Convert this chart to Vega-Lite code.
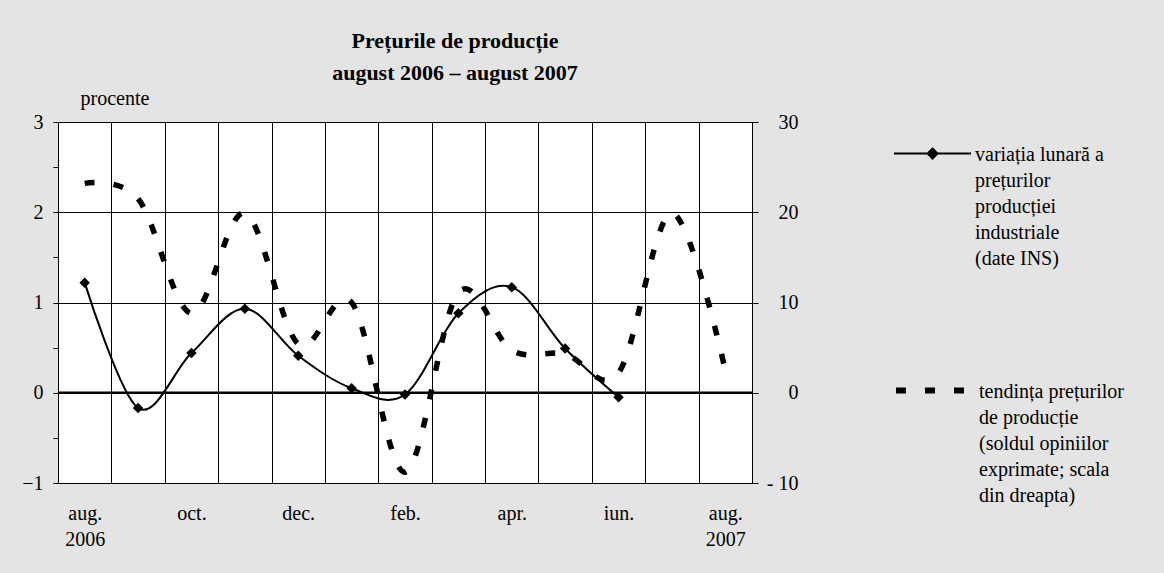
{
  "$schema": "https://vega.github.io/schema/vega-lite/v6.json",
  "width": 694,
  "height": 361,
  "autosize": {"type": "none"},
  "padding": {"left": 58, "top": 122, "right": 412, "bottom": 90},
  "background": "#e4e4e4",
  "config": {
    "font": "Liberation Serif",
    "view": {"fill": "white", "stroke": "#000", "strokeWidth": 1},
    "style": {"guide-label": {"lineHeight": 26}},
    "axis": {
      "labelFont": "Liberation Serif",
      "labelFontSize": 20,
      "labelColor": "#000",
      "domainColor": "#000",
      "tickColor": "#000",
      "gridColor": "#000",
      "gridOpacity": 1,
      "titleFont": "Liberation Serif"
    },
    "legend": {
      "labelFont": "Liberation Serif",
      "labelFontSize": 20,
      "labelColor": "#000",
      "labelLimit": 300,
      "labelBaseline": "alphabetic",
      "labelOffset": 3,
      "padding": 0,
      "symbolSize": 5929,
      "symbolStrokeColor": "#000",
      "symbolFillColor": "#000"
    }
  },
  "title": {
    "text": ["Prețurile de producție", "august 2006 – august 2007"],
    "font": "Liberation Serif",
    "fontSize": 22,
    "fontWeight": "bold",
    "color": "#000",
    "lineHeight": 32,
    "anchor": "middle",
    "frame": "group",
    "dx": 50,
    "offset": 3
  },
  "data": {
    "values": [
      {"serie": "lunara", "luna": "aug. 2006", "v": 1.22},
      {"serie": "lunara", "luna": "sep.", "v": -0.17},
      {"serie": "lunara", "luna": "oct.", "v": 0.44},
      {"serie": "lunara", "luna": "nov.", "v": 0.93},
      {"serie": "lunara", "luna": "dec.", "v": 0.41},
      {"serie": "lunara", "luna": "ian.", "v": 0.05},
      {"serie": "lunara", "luna": "feb.", "v": -0.02},
      {"serie": "lunara", "luna": "mar.", "v": 0.88},
      {"serie": "lunara", "luna": "apr.", "v": 1.17},
      {"serie": "lunara", "luna": "mai", "v": 0.49},
      {"serie": "lunara", "luna": "iun.", "v": -0.05},
      {"serie": "tendinta", "luna": "aug. 2006", "v": 23.2},
      {"serie": "tendinta", "luna": "sep.", "v": 21.5},
      {"serie": "tendinta", "luna": "oct.", "v": 8.8},
      {"serie": "tendinta", "luna": "nov.", "v": 19.9},
      {"serie": "tendinta", "luna": "dec.", "v": 5.4},
      {"serie": "tendinta", "luna": "ian.", "v": 10.0},
      {"serie": "tendinta", "luna": "feb.", "v": -8.8},
      {"serie": "tendinta", "luna": "mar.", "v": 11.1},
      {"serie": "tendinta", "luna": "apr.", "v": 4.7},
      {"serie": "tendinta", "luna": "mai", "v": 4.3},
      {"serie": "tendinta", "luna": "iun.", "v": 2.2},
      {"serie": "tendinta", "luna": "iul.", "v": 19.9},
      {"serie": "tendinta", "luna": "aug. 2007", "v": 2.5}
    ]
  },
  "layer": [
    {
      "encoding": {
        "y": {
          "field": "v",
          "type": "quantitative",
          "scale": {"domain": [-1, 3], "nice": false, "zero": false},
          "axis": {
            "title": "procente",
            "titleAngle": 0,
            "titleX": 22,
            "titleY": -18,
            "titleAlign": "left",
            "titleBaseline": "alphabetic",
            "titleFontSize": 20,
            "titleFontWeight": "normal",
            "titleColor": "#000",
            "values": [-1, -0.5, 0, 0.5, 1, 1.5, 2, 2.5, 3],
            "labelExpr": "datum.value % 1 === 0 ? (datum.value < 0 ? '−' + abs(datum.value) : '' + datum.value) : ''",
            "tickSize": 5,
            "labelPadding": 10,
            "grid": true,
            "gridOpacity": {"condition": {"test": "datum.value % 1 !== 0", "value": 0}, "value": 1},
            "gridColor": "#000",
            "labelOverlap": false
          }
        }
      },
      "layer": [
        {
          "data": {"values": [{"v": 0}]},
          "mark": {"type": "rule", "color": "#000", "strokeWidth": 2.5}
        },
        {
          "transform": [{"filter": "datum.serie === 'lunara'"}],
          "mark": {"type": "line", "interpolate": "cardinal", "strokeWidth": 2},
          "encoding": {
            "x": {
              "field": "luna",
              "type": "ordinal",
              "sort": null,
              "bandPosition": 0.5,
              "scale": {"type": "band", "domain": ["aug. 2006", "sep.", "oct.", "nov.", "dec.", "ian.", "feb.", "mar.", "apr.", "mai", "iun.", "iul.", "aug. 2007"], "paddingInner": 0, "paddingOuter": 0},
              "axis": {
                "title": null,
                "ticks": false,
                "grid": true,
                "tickBand": "extent",
                "gridColor": "#000",
                "labelAngle": 0,
                "labelPadding": 20,
                "labelBaseline": "top",
                "labelLineHeight": 26,
                "labelOverlap": false,
                "labelExpr": "indexof(['aug. 2006','oct.','dec.','feb.','apr.','iun.','aug. 2007'], datum.value) >= 0 ? split(datum.value, ' ') : ''"
              }
            },
            "stroke": {
              "field": "serie",
              "type": "nominal",
              "scale": {"domain": ["lunara"], "range": ["#000"]},
              "legend": {
                "title": null,
                "orient": "none",
                "legendX": 835,
                "legendY": -1,
                "symbolType": "M-1,-0.18H1M0,-0.31L0.13,-0.18L0,-0.05L-0.13,-0.18ZM0,-0.25L0.06,-0.18L0,-0.11L-0.06,-0.18Z",
                "symbolStrokeWidth": 2,
                "labelExpr": "['variația lunară a','prețurilor','producției','industriale','(date INS)']"
              }
            }
          }
        },
        {
          "transform": [{"filter": "datum.serie === 'lunara'"}],
          "mark": {"type": "point", "shape": "diamond", "filled": true, "color": "#000", "size": 110, "opacity": 1},
          "encoding": {
            "x": {
              "field": "luna",
              "type": "ordinal",
              "sort": null,
              "bandPosition": 0.5,
              "scale": {"type": "band", "domain": ["aug. 2006", "sep.", "oct.", "nov.", "dec.", "ian.", "feb.", "mar.", "apr.", "mai", "iun.", "iul.", "aug. 2007"], "paddingInner": 0, "paddingOuter": 0}
            }
          }
        }
      ]
    },
    {
      "transform": [{"filter": "datum.serie === 'tendinta'"}],
      "mark": {"type": "line", "interpolate": "cardinal", "color": "#000", "strokeWidth": 5.5, "strokeCap": "butt"},
      "encoding": {
        "x": {
          "field": "luna",
          "type": "ordinal",
          "sort": null,
          "bandPosition": 0.5,
          "scale": {"type": "band", "domain": ["aug. 2006", "sep.", "oct.", "nov.", "dec.", "ian.", "feb.", "mar.", "apr.", "mai", "iun.", "iul.", "aug. 2007"], "paddingInner": 0, "paddingOuter": 0}
        },
        "y": {
          "field": "v",
          "type": "quantitative",
          "scale": {"domain": [-10, 30], "nice": false, "zero": false},
          "axis": {
            "orient": "right",
            "title": null,
            "values": [-10, 0, 10, 20, 30],
            "labelExpr": "datum.value < 0 ? '- ' + abs(datum.value) : '' + datum.value",
            "tickSize": 6,
            "labelAlign": "right",
            "labelPadding": 40,
            "grid": false,
            "labelOverlap": false
          }
        },
        "strokeDash": {
          "field": "serie",
          "type": "nominal",
          "scale": {"domain": ["tendinta"], "range": [[10, 19]]},
          "legend": {
            "title": null,
            "orient": "none",
            "legendX": 835,
            "legendY": 234,
            "symbolType": "M-1,-0.18H1",
            "symbolStrokeWidth": 6,
            "labelExpr": "['tendința prețurilor','de producție','(soldul opiniilor','exprimate; scala','din dreapta)']"
          }
        }
      }
    }
  ],
  "resolve": {"scale": {"y": "independent"}}
}
